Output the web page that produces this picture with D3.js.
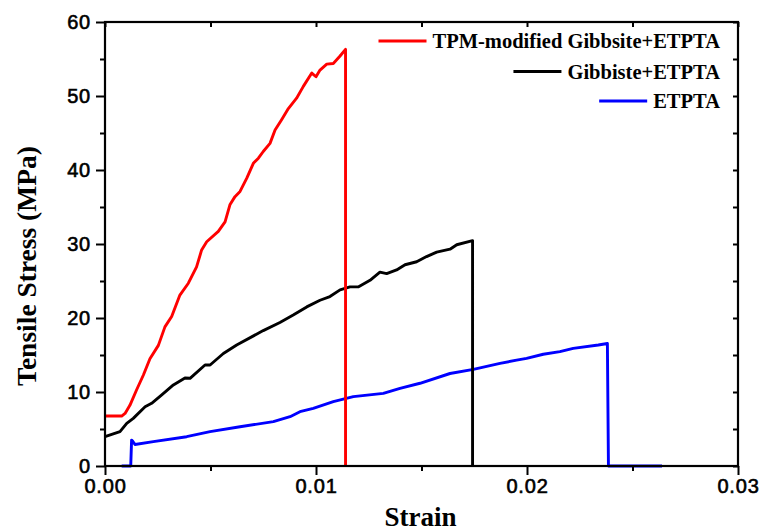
<!DOCTYPE html>
<html><head><meta charset="utf-8">
<script src="https://cdn.jsdelivr.net/npm/d3@7"></script>
<style>body{margin:0;background:#fff}</style>
</head><body>
<svg id="c" width="759" height="532"></svg>
<script>
// Data (strain, MPa)
const seriesNames = ["TPM-modified Gibbsite+ETPTA", "Gibbiste+ETPTA", "ETPTA"];
const seriesColors = ["#ff0000", "#000000", "#0000ff"];
const redX = [0,0.00079,0.00095,0.00118,0.0015,0.00182,0.00213,0.00253,0.00284,0.00316,0.00355,0.00395,0.00434,0.00458,0.00482,0.00537,0.00569,0.00592,0.00616,0.0064,0.00672,0.00703,0.00727,0.0075,0.00782,0.00806,0.00837,0.00869,0.00908,0.0094,0.0098,0.01,0.01019,0.01051,0.01082,0.01114,0.0114,0.0114];
const redY = [6.75,6.75,7.1,8.2,10.3,12.3,14.5,16.3,18.8,20.2,23.1,24.7,26.9,29.2,30.3,31.7,33.0,35.3,36.4,37.1,38.9,40.9,41.6,42.5,43.6,45.4,46.8,48.3,49.7,51.3,53.1,52.6,53.5,54.3,54.4,55.4,56.3,0];
const blackX = [0,0.00071,0.00103,0.00134,0.0019,0.00221,0.00269,0.00324,0.00379,0.00403,0.00474,0.00498,0.00561,0.00624,0.0075,0.00829,0.00892,0.00956,0.01019,0.01066,0.01114,0.01161,0.012,0.01256,0.01303,0.01335,0.01382,0.01422,0.01477,0.01524,0.01572,0.01635,0.01667,0.01742,0.01742];
const blackY = [3.96,4.64,5.77,6.44,8.0,8.47,9.6,10.95,11.9,11.85,13.65,13.65,15.2,16.35,18.3,19.4,20.4,21.5,22.4,22.9,23.8,24.2,24.2,25.1,26.2,26.0,26.5,27.2,27.6,28.3,28.9,29.3,29.9,30.45,0];
const blueX = [0.00079,0.00122,0.00126,0.0013,0.00142,0.00229,0.00387,0.00498,0.0064,0.00798,0.00877,0.00924,0.00987,0.01082,0.01177,0.01319,0.01398,0.01493,0.01635,0.01746,0.01872,0.01951,0.01998,0.02077,0.02156,0.02219,0.02338,0.02381,0.02386,0.0264];
const blueY = [0,0,3.5,3.4,2.9,3.29,3.96,4.64,5.31,5.99,6.66,7.34,7.8,8.69,9.37,9.82,10.5,11.18,12.5,13.06,13.87,14.3,14.55,15.1,15.45,15.9,16.35,16.55,0,0];
const xMajor = [0,0.01,0.02,0.03];
const xMajorLabels = ["0.00","0.01","0.02","0.03"];
const xMinor = [0.005,0.015,0.025];
const yMajor = [0,10,20,30,40,50,60];
const yMinor = [5,15,25,35,45,55];
const xTitle = "Strain";
const yTitle = "Tensile Stress (MPa)";

const svg = d3.select("#c");
const L=105, R=738, T=22, B=466;
const x = d3.scaleLinear().domain([0,0.03]).range([L,R]);
const y = d3.scaleLinear().domain([0,60]).range([B,T]);

const series = [
  {name:seriesNames[0], color:seriesColors[0], xs:redX, ys:redY},
  {name:seriesNames[1], color:seriesColors[1], xs:blackX, ys:blackY},
  {name:seriesNames[2], color:seriesColors[2], xs:blueX, ys:blueY}
];
const line = d3.line().x(d=>x(d[0])).y(d=>y(d[1]));
[series[2], series[1], series[0]].forEach(s=>{
  svg.append("path").attr("d", line(s.xs.map((v,i)=>[v,s.ys[i]])))
    .attr("fill","none").attr("stroke",s.color).attr("stroke-width",2.9)
    .attr("stroke-linejoin","round");
});

const tickFont = "'Liberation Sans', Arial, sans-serif";
const gB = svg.append("g").attr("transform",`translate(0,${B})`);
gB.call(d3.axisBottom(x).tickValues(xMajor).tickSize(9).tickFormat((d,i)=>xMajorLabels[i]));
svg.append("g").attr("transform",`translate(0,${B})`).call(d3.axisBottom(x).tickValues(xMinor).tickSize(5).tickFormat(""));
const gL = svg.append("g").attr("transform",`translate(${L},0)`);
gL.call(d3.axisLeft(y).tickValues(yMajor).tickSize(9).tickFormat(d3.format("d")));
svg.append("g").attr("transform",`translate(${L},0)`).call(d3.axisLeft(y).tickValues(yMinor).tickSize(5).tickFormat(""));
svg.append("g").attr("transform",`translate(0,${T})`).call(d3.axisBottom(x).tickValues(xMajor.concat(xMinor)).tickSize(5).tickFormat(""));
svg.append("g").attr("transform",`translate(${R},0)`).call(d3.axisLeft(y).tickValues(yMajor.concat(yMinor)).tickSize(5).tickFormat(""));
svg.selectAll(".domain").remove();
svg.selectAll(".tick line").attr("stroke","#000").attr("stroke-width",2);
svg.append("rect").attr("x",L).attr("y",T).attr("width",R-L).attr("height",B-T)
  .attr("fill","none").attr("stroke","#000").attr("stroke-width",2.2);

gB.selectAll(".tick text").attr("font-family",tickFont).attr("font-size",20)
  .attr("letter-spacing","0.8px").attr("fill","#000").attr("stroke","#000").attr("stroke-width",0.6)
  .attr("dy","0.9em").attr("y",9);
gL.selectAll(".tick text").attr("font-family",tickFont).attr("font-size",20)
  .attr("letter-spacing","0.8px").attr("fill","#000").attr("stroke","#000").attr("stroke-width",0.6)
  .attr("x",-14).attr("dy","0.34em");

const serif = "'Liberation Serif','Times New Roman',serif";
svg.append("text").attr("x",(L+R)/2 - 1).attr("y",526).attr("text-anchor","middle")
  .attr("font-family",serif).attr("font-weight","bold").attr("font-size",27).text(xTitle);
svg.append("text").attr("transform","translate(36,266) rotate(-90)").attr("text-anchor","middle")
  .attr("font-family",serif).attr("font-weight","bold").attr("font-size",27.5).text(yTitle);

const legY = [41,71.5,101];
series.forEach((s,i)=>{
  const g = svg.append("g");
  const t = g.append("text").attr("x",720).attr("y",legY[i]+7).attr("text-anchor","end")
    .attr("font-family",serif).attr("font-weight","bold").attr("font-size",20.5).text(s.name);
  const w = t.node().getComputedTextLength();
  g.append("line").attr("x1",720-w-54).attr("x2",720-w-6).attr("y1",legY[i]).attr("y2",legY[i])
    .attr("stroke",s.color).attr("stroke-width",2.9);
});
</script>
</body></html>
